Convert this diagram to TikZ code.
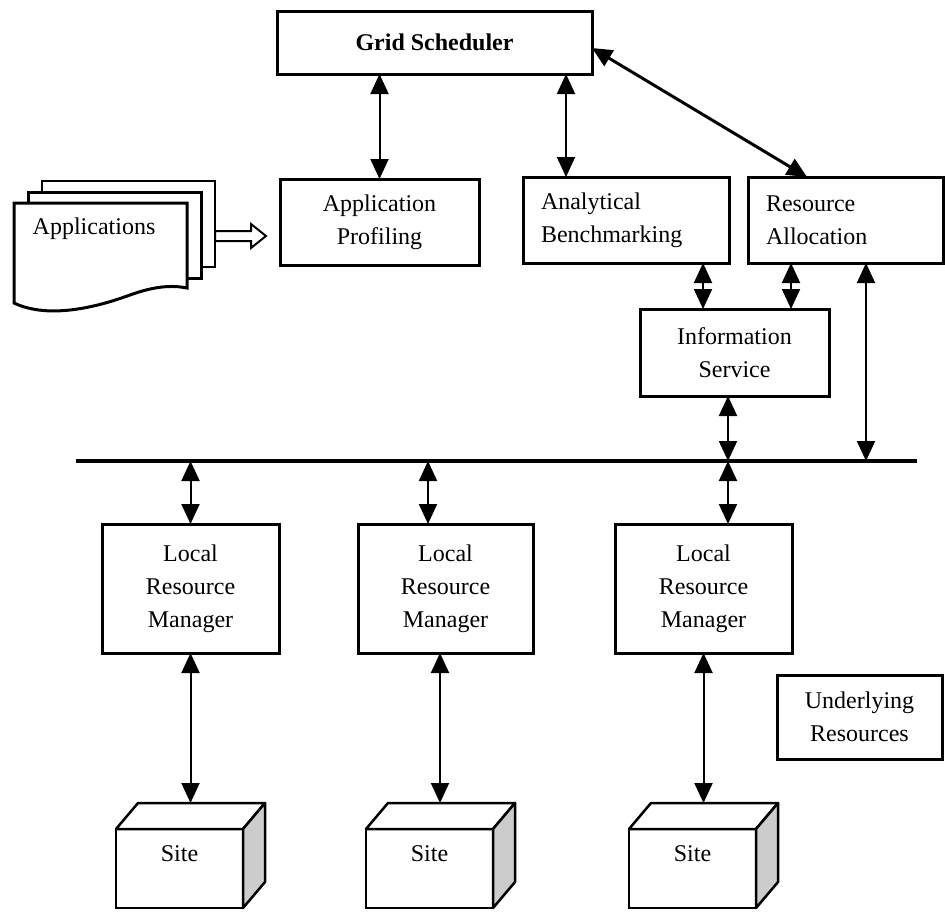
\documentclass[tikz,border=0pt]{standalone}
\usepackage{fontspec}
\setmainfont{Liberation Serif}
\usetikzlibrary{arrows.meta,calc}
\begin{document}
\begin{tikzpicture}[x=1pt,y=-1pt,
  txt/.style={font=\fontsize{24}{33}\selectfont},
  box/.style={draw, line width=3pt, fill=white, inner sep=0pt, outer sep=0pt,
    align=center, txt},
  lbox/.style={box, align=left, inner xsep=18pt},
  face/.style={draw, line width=2.5pt, fill=white, minimum width=127pt,
    minimum height=79pt, inner sep=0pt, outer sep=0pt},
  side/.style={draw, line width=2.5pt, line join=round},
  doc/.style={draw, line width=3pt, fill=white, line join=miter},
  arr/.style={line width=2pt,
    arrows={Triangle[length=20pt,width=18pt]-Triangle[length=20pt,width=18pt]}},
  bus/.style={line width=3.5pt},
  hollow/.style={draw, line width=2pt, fill=white, line join=miter}
]
\useasboundingbox (0,0) rectangle (945,911);

% stacked application documents
\draw[doc, line width=2pt] (42,181) rectangle (215,267);
\draw[doc] (28,192) rectangle (201,278);
\draw[doc] (14,203) -- (187,203) -- (187,288)
  .. controls (172,285) and (155,286) .. (130,295)
  .. controls (100,306) and (50,320) .. (14,303) -- cycle;
\node[txt, inner sep=0pt] (apps) at (94,229) {Applications};
\coordinate (docR) at (215,236);

% upper layer
\node[box, minimum width=315pt, minimum height=63pt,
  font=\fontsize{24}{33}\selectfont\bfseries] (gs) at (434.5,42.5) {Grid Scheduler};
\node[box, minimum width=199pt, minimum height=86pt] (ap) at (379.5,222) {Application\\Profiling};
\node[lbox, text width=170pt, minimum height=86pt] (ab) at (626,220) {Analytical\\Benchmarking};
\node[lbox, text width=159pt, minimum height=86pt] (ra) at (845.5,220) {Resource\\Allocation};
\node[box, minimum width=189pt, minimum height=87pt] (is) at (734.5,352.5) {Information\\Service};

% hollow arrow from the applications to profiling
\draw[hollow] (docR) ++(0,-5) -- ++(36,0) -- ++(0,-7) -- ++(15,12)
  -- ++(-15,12) -- ++(0,-7) -- ++(-36,0) -- cycle;

% bus
\coordinate (busL) at (76,461);
\coordinate (busR) at (917,461);
\draw[bus] (busL) -- (busR);

% local resource managers
\node[box, minimum width=177pt, minimum height=129pt] (lrm1) at (190.5,588.5) {Local\\Resource\\Manager};
\node[box, minimum width=175pt, minimum height=129pt] (lrm2) at (445.5,588.5) {Local\\Resource\\Manager};
\node[box, minimum width=177pt, minimum height=129pt] (lrm3) at (703.5,588.5) {Local\\Resource\\Manager};
\node[box, minimum width=165pt, minimum height=84pt] (ur) at (859.5,717) {Underlying\\Resources};

% sites as boxes in perspective
\foreach \i/\x in {1/179.5, 2/429.5, 3/692.5} {
  \node[face] (site\i) at (\x,868.5) {};
  \draw[side, fill=white] (site\i.north west) -- ++(22,-26) -- ++(127,0)
    -- (site\i.north east) -- cycle;
  \draw[side, fill=gray!40] (site\i.north east) -- ++(22,-26) -- ++(0,79)
    -- (site\i.south east) -- cycle;
  \node[txt, inner sep=0pt] (sitelbl\i) at ($(site\i.center)+(0,-15)$) {Site};
  \coordinate (sitetop\i) at ($(site\i.north)+(0,-26)$);
}

% connectors
\draw[arr] (ap.north) -- (ap.north |- gs.south);
\draw[arr] ([xshift=-60pt]ab.north) -- ([xshift=-60pt]ab.north |- gs.south);
\draw[arr, line width=3pt] ([yshift=-5.5pt]gs.east) -- ([xshift=-38.5pt]ra.north);
\draw[arr] ([xshift=-31.5pt]is.north) -- ([xshift=-31.5pt]is.north |- ab.south);
\draw[arr] ([xshift=56.5pt]is.north) -- ([xshift=56.5pt]is.north |- ra.south);
\draw[arr] ([xshift=-6.5pt]is.south) -- ([xshift=-6.5pt]is.south |- busL);
\draw[arr] ([xshift=20.5pt]ra.south) -- ([xshift=20.5pt]ra.south |- busL);

\draw[arr] (lrm1.north) -- (lrm1.north |- busL);
\draw[arr] ([xshift=-17.5pt]lrm2.north) -- ([xshift=-17.5pt]lrm2.north |- busL);
\draw[arr] ([xshift=24.5pt]lrm3.north) -- ([xshift=24.5pt]lrm3.north |- busL);

\draw[arr] (lrm1.south) -- (lrm1.south |- sitetop1);
\draw[arr] ([xshift=-5.5pt]lrm2.south) -- ([xshift=-5.5pt]lrm2.south |- sitetop2);
\draw[arr] (lrm3.south) -- (lrm3.south |- sitetop3);
\end{tikzpicture}
\end{document}
